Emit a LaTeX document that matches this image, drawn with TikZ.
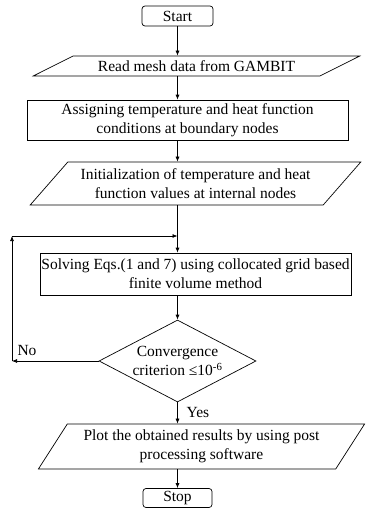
\documentclass[tikz,border=0pt]{standalone}
\usepackage{fontspec}
\setmainfont{Liberation Serif}
\usetikzlibrary{shapes.geometric,arrows.meta}
\begin{document}
\begin{tikzpicture}[x=1pt, y=-1pt, line width=0.7pt,
        every node/.style={font=\fontsize{15.5}{19}\selectfont, inner sep=0pt, align=center},
        term/.style={draw, rectangle, rounded corners=3pt},
        proc/.style={draw, rectangle},
        io/.style={draw, trapezium, trapezium stretches=true},
        test/.style={draw, diamond, aspect=1.9},
        flow/.style={-{Latex[length=5pt,width=4pt]}}]
        \useasboundingbox (0,0) rectangle (365,511);
        % boxes
        \node[term, minimum width=71pt, minimum height=20pt] (start) at (177.5, 16) {Start};
        \node[io, trapezium left angle=19.2, trapezium right angle=160.8,
              minimum width=327pt, minimum height=20pt] (read) at (196.5, 66) {Read mesh data from GAMBIT};
        \node[proc, minimum width=321pt, minimum height=40pt] (assign) at (187.5, 120)
              {Assigning temperature and heat function\\conditions at boundary nodes};
        \node[io, trapezium left angle=41.6, trapezium right angle=138.4,
              minimum width=331pt, minimum height=43pt] (init) at (195.5, 183.5)
              {Initialization of temperature and heat\\function values at internal nodes};
        \node[proc, minimum width=311pt, minimum height=42pt] (solve) at (195.5, 274)
              {Solving Eqs.(1 and 7) using collocated grid based\\finite volume method};
        \node[test, minimum width=157pt, minimum height=82pt] (conv) at (177.5, 361)
              {Convergence\\criterion ≤10\textsuperscript{-6}};
        \node[io, trapezium left angle=52.5, trapezium right angle=127.5,
              minimum width=327pt, minimum height=45pt] (plot) at (201.5, 446.5)
              {Plot the obtained results by using post\\processing software};
        \node[term, minimum width=69pt, minimum height=19pt] (stop) at (177.5, 498) {Stop};
        % labels
        \node[] (no) at (27, 350) {No};
        \node[] (yes) at (198, 412) {Yes};
        % loop
        \coordinate (noleft) at (12, 361);
        \coordinate (notop) at (12, 236);
        \coordinate (join) at (177.5, 236);
        % arrows
        \draw[flow] (start.south) -- (start.south |- read.north);
        \draw[flow] (start.south |- read.south) -- (start.south |- assign.north);
        \draw[flow] (start.south |- assign.south) -- (start.south |- init.north);
        \draw[flow] (start.south |- init.south) -- (start.south |- solve.north);
        \draw[flow] (start.south |- solve.south) -- (conv.north);
        \draw[flow] (conv.south) -- (conv.south |- plot.north);
        \draw[flow] (conv.south |- plot.south) -- (stop.north);
        \draw[flow] (conv.west) -- (noleft);
        \draw[flow] (noleft) -- (notop);
        \draw[flow] (notop) -- (join);
\end{tikzpicture}
\end{document}
